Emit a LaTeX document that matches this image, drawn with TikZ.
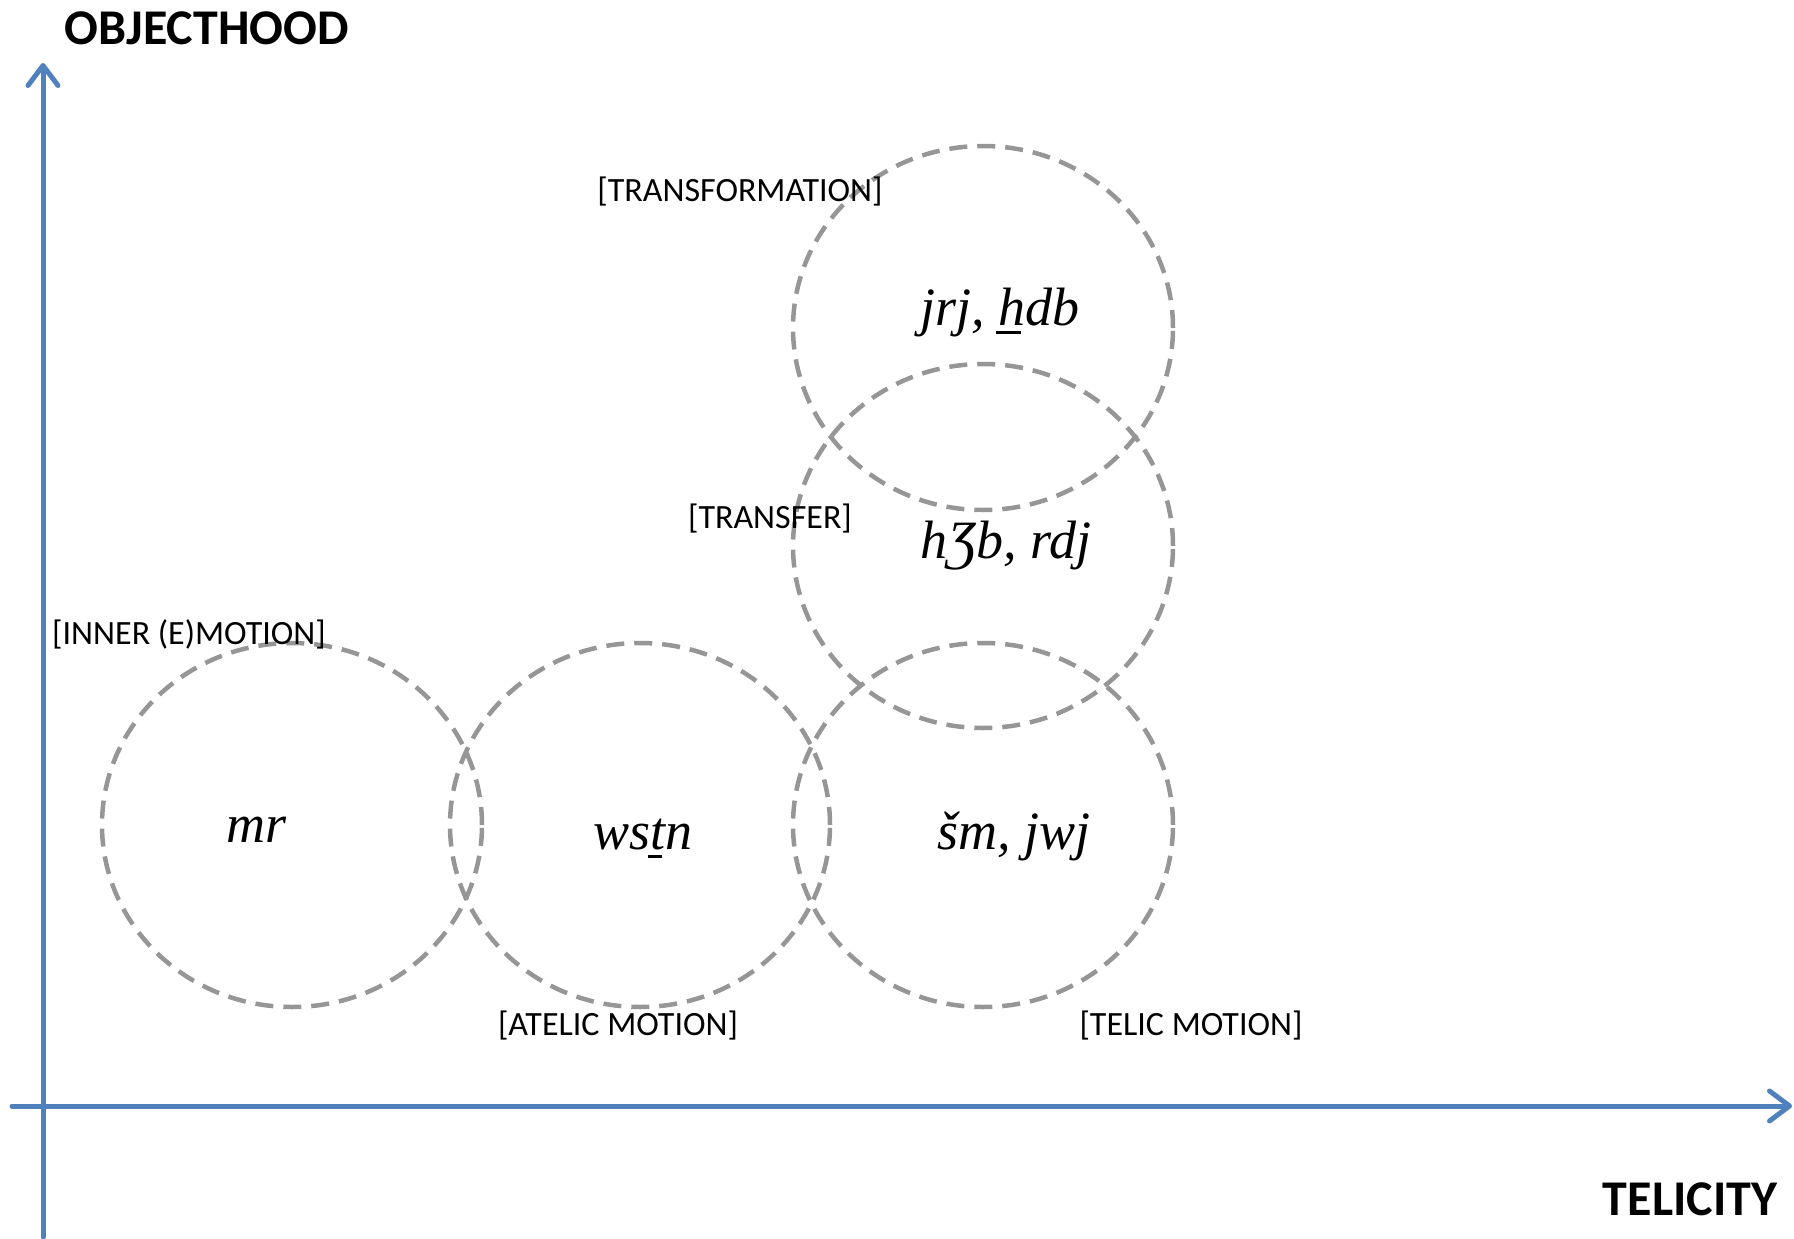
\documentclass[tikz,border=0pt]{standalone}
\usepackage{fontspec}
\setmainfont{Carlito}
\newfontfamily\tnr{Liberation Serif}
\usetikzlibrary{arrows.meta,shapes.geometric}
\definecolor{axisblue}{RGB}{79,129,189}
\definecolor{dashgray}{RGB}{150,150,150}
\newcommand\lowbar[1]{\setbox0\hbox{#1}\rlap{\kern-0.04em\raisebox{-0.17em}{\rule{0.9\wd0}{0.05em}}}#1}
\begin{document}
\begin{tikzpicture}[x=1pt,y=-1pt,
  axis/.style={draw=axisblue, line width=5pt, line cap=round,
    -{Straight Barb[length=20pt,width=30pt,line width=5pt,round]}},
  region/.style={ellipse, draw=dashgray, line width=4.5pt, dash pattern=on 18pt off 10pt,
    minimum width=380pt, minimum height=364pt, inner sep=0pt},
  tag/.style={font=\fontsize{34}{34}\selectfont, inner sep=0pt, anchor=base},
  verb/.style={font=\tnr\itshape\fontsize{54}{54}\selectfont, inner sep=0pt, anchor=base},
  title/.style={font=\bfseries\fontsize{50}{50}\selectfont, inner sep=0pt, anchor=base}]
\useasboundingbox (0,0) rectangle (1794,1239);
% axes
\coordinate (yb) at (43,1237);
\coordinate (yt) at (43,63);
\coordinate (xl) at (12,1106);
\coordinate (xr) at (1792,1106);
\draw[axis] (yb) -- (yt);
\draw[axis] (xl) -- (xr);
\node[title] (obj) at (207,45) {OBJECTHOOD};
\node[title] (tel) at (1690,1215) {TELICITY};
% regions
\node[region] (cmr) at (292,825) {};
\node[region] (cwstn) at (640,825) {};
\node[region] (csm) at (983,825) {};
\node[region] (ch3b) at (983,546) {};
\node[region] (cjrj) at (983,328) {};
% verbs
\node[verb] (vjrj) at (1000,325) {jrj, \lowbar{h}db};
\node[verb] (vh3b) at (1006,558) {hƷb, rdj};
\node[verb] (vmr) at (257,842) {mr};
\node[verb] (vwstn) at (643,849) {ws\lowbar{t}n};
\node[verb] (vsm) at (1014,849) {šm, jwj};
% tags
\node[tag] (ttrf) at (740,201) {[TRANSFORMATION]};
\node[tag] (ttrs) at (770,528) {[TRANSFER]};
\node[tag] (tinn) at (189,644) {[INNER (E)MOTION]};
\node[tag] (tate) at (618,1035) {[ATELIC MOTION]};
\node[tag] (ttel) at (1191,1035) {[TELIC MOTION]};
\end{tikzpicture}
\end{document}
